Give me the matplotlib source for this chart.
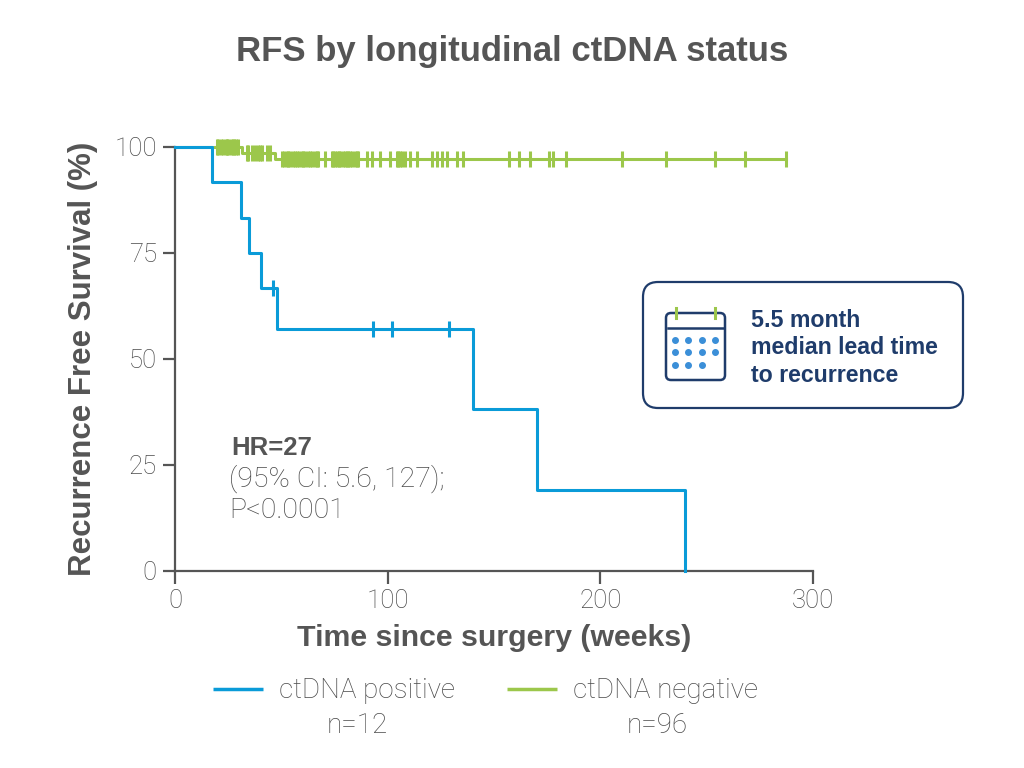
import matplotlib as mp
mp.use('Agg')
import matplotlib.pyplot as plt
from matplotlib.patches import FancyBboxPatch
import numpy as np

# ctDNA positive (n=12): time in weeks, 1 = recurrence, 0 = censored
pos_time = [17.2, 30.9, 35.0, 40.6, 45.9, 48.1, 93.2, 102.2, 129.0, 140.0, 170.0, 240.0]
pos_event = [1, 1, 1, 1, 0, 1, 0, 0, 0, 1, 1, 1]

# ctDNA negative (n=96): two recurrences, the rest censored
neg_event_times = [31.4, 47.0]
neg_censor_times = [
    19.6, 20.4, 21.6, 22.7, 23.8, 24.4, 25.1, 26.3, 27.1, 27.9, 28.7, 29.5,
    33.7, 34.5, 36.1, 37.6, 39.2, 40.0, 40.8, 43.1, 44.7,
    50.4, 51.4, 52.5, 53.3, 54.1, 55.6, 56.4, 57.2, 58.4, 59.6, 60.3,
    61.1, 62.7, 63.5, 64.3, 65.8, 66.6, 67.4, 70.5, 73.7, 74.5, 75.2, 76.3,
    77.0, 77.6, 78.8, 79.9, 80.7, 81.5, 82.3, 83.1, 84.6, 85.4, 86.2, 90.1,
    92.5, 96.4, 101.1, 104.2, 105.0, 105.8, 106.9, 108.1, 110.5, 113.6,
    120.7, 123.0, 125.4, 127.7, 132.4, 135.5,
    157.0, 161.9, 166.9, 175.8, 177.6, 183.8, 210.3, 230.7, 254.0, 268.0, 287.3,
]
neg_time = neg_event_times + neg_censor_times
neg_event = [1] * len(neg_event_times) + [0] * len(neg_censor_times)

labels = ["ctDNA positive", "ctDNA negative"]
ns = ["n=12", "n=96"]

blue = '#0a9bd8'
green = '#9cc74b'
gray = '#555555'
lightgray = '#4a4a4a'
navy = '#1f3c6b'
dotblue = '#3b8fd8'

LIGHT = ['Roboto', 'DejaVu Sans']
BOLD = ['Liberation Sans', 'DejaVu Sans']


def km(times, events):
    t = np.array(times, dtype=float)
    e = np.array(events)
    order = np.lexsort((1 - e, t))
    t, e = t[order], e[order]
    s = 100.0
    at_risk = len(t)
    xs, ys = [0.0], [100.0]
    cx, cy = [], []
    for ti, ei in zip(t, e):
        if ei == 1:
            s = s * (at_risk - 1) / at_risk
            xs.append(ti)
            ys.append(s)
        else:
            cx.append(ti)
            cy.append(s)
        at_risk -= 1
    if t.max() > xs[-1]:
        xs.append(t.max())
        ys.append(s)
    return xs, ys, cx, cy


fig = plt.figure(figsize=(10.24, 7.68), dpi=100)
ax = fig.add_axes([175 / 1024, 1 - 571 / 768, 638 / 1024, 424 / 768])

for times, events, col in [(neg_time, neg_event, green), (pos_time, pos_event, blue)]:
    xs, ys, cx, cy = km(times, events)
    ax.step(xs, ys, where='post', color=col, lw=2.2, clip_on=False, zorder=3)
    ax.plot(cx, cy, ls='none', marker='|', ms=11, mew=2.2, color=col, clip_on=False, zorder=3)

ax.set_xlim(0, 300)
ax.set_ylim(0, 100)
ax.set_xticks([0, 100, 200, 300])
ax.set_yticks([0, 25, 50, 75, 100])
for side in ['top', 'right']:
    ax.spines[side].set_visible(False)
for side in ['left', 'bottom']:
    ax.spines[side].set_color(gray)
    ax.spines[side].set_linewidth(1.6)
ax.tick_params(colors=gray, labelcolor=lightgray, width=1.6, length=9, labelsize=18.5, pad=4)
for lab in ax.get_xticklabels() + ax.get_yticklabels():
    lab.set_family(LIGHT)
    lab.set_fontweight('light')

ax.set_xlabel("Time since surgery (weeks)", fontsize=21.8, fontweight='bold', color=gray,
              family=BOLD, labelpad=8)
ax.set_ylabel("Recurrence Free Survival (%)", fontsize=22.5, fontweight='bold', color=gray,
              family=BOLD, labelpad=12)
fig.text(0.5, 1 - 61 / 768, "RFS by longitudinal ctDNA status", ha='center', va='baseline',
         fontsize=25, fontweight='bold', color=gray, family=BOLD)

# overlay in pixel coordinates for annotations
ov = fig.add_axes([0, 0, 1, 1], zorder=5)
ov.set_xlim(0, 1024)
ov.set_ylim(768, 0)
ov.axis('off')

ov.text(231, 455, "HR=27", fontsize=18.5, fontweight='bold', color=gray, family=BOLD, va='baseline')
ov.text(229, 487, "(95% CI: 5.6, 127);", fontsize=20.5, fontweight='light', color=lightgray,
        family=LIGHT, va='baseline')
ov.text(229, 518, "P<0.0001", fontsize=20.5, fontweight='light', color=lightgray, family=LIGHT,
        va='baseline')

# legend
for i, (lab, n, col) in enumerate(zip(labels, ns, [blue, green])):
    x0 = 213 + i * 294
    ov.plot([x0, x0 + 50], [689, 689], color=col, lw=2.5, solid_capstyle='butt')
    ov.text(x0 + 66, 698, lab, fontsize=20, fontweight='light', color=lightgray, family=LIGHT,
            va='baseline')
    ov.text(x0 + 144 + i * 6, 733, n, fontsize=20, fontweight='light', color=lightgray,
            family=LIGHT, va='baseline', ha='center')

# lead time box
ov.add_patch(FancyBboxPatch((643, 282), 320, 126, boxstyle="round,pad=0,rounding_size=15",
                            fc='white', ec=navy, lw=1.6))
ov.add_patch(FancyBboxPatch((666, 313), 59, 67, boxstyle="round,pad=0,rounding_size=5",
                            fc='white', ec=navy, lw=1.8))
ov.plot([668, 723], [328, 328], color=navy, lw=1.8)
for gx in [676, 715]:
    ov.plot([gx, gx], [308, 318], color=green, lw=2.2)
dot_x = [675, 688, 701.5, 715]
for row, cnt in zip([340, 352, 364.5], [4, 4, 3]):
    ov.scatter(dot_x[:cnt], [row] * cnt, s=16, color=dotblue, zorder=6)
for txt, yb in zip(["5.5 month", "median lead time", "to recurrence"], [327, 354, 382]):
    ov.text(751, yb, txt, fontsize=16.7, fontweight='bold', color=navy, family=BOLD,
            va='baseline')

fig.savefig('out.png', dpi=100)
